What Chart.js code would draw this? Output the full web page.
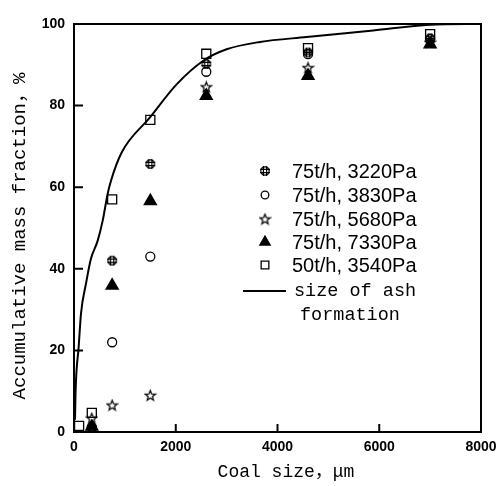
<!DOCTYPE html>
<html>
<head>
<meta charset="utf-8">
<script src="https://cdn.jsdelivr.net/npm/chart.js@4.4.1/dist/chart.umd.min.js"></script>
<style>
body { margin: 0; background: #fff; }
#wrap { width: 499px; height: 486px; }
</style>
</head>
<body>
<div id="wrap"><canvas id="ash-chart" width="499" height="486"></canvas></div>
<script>
// coal sizes (um) where the samples were taken
const coalSize = [350, 750, 1500, 2600, 4600, 7000];
const coalSize50 = [100, 350, 750, 1500, 2600, 4600, 7000];

// accumulative mass fraction (%) per boiler load / pressure
const frac3220 = [1.0, 42.0, 65.7, 90.2, 93.0, 96.5];
const frac3830 = [1.2, 22.0, 43.0, 88.3, 92.6, 96.3];
const frac5680 = [3.4, 6.6, 9.0, 84.6, 89.3, 95.5];
const frac7330 = [1.3, 35.9, 56.6, 82.4, 87.3, 95.0];
const frac3540 = [1.5, 4.7, 57.0, 76.5, 92.7, 94.1, 97.5];

// size of ash formation curve
const ashX = [20, 30, 92, 138, 236, 334, 466, 564, 662, 727, 937, 1493, 2017, 2541, 3000, 3654, 4571, 5881, 7000, 8000];
const ashY = [3, 9.5, 20.9, 29.1, 36.4, 42.5, 46.9, 51.8, 58.4, 61.6, 68.5, 77.1, 85.2, 91, 93.8, 95.6, 96.8, 98.4, 99.8, 100];

const seriesNames = ['75t/h, 3220Pa', '75t/h, 3830Pa', '75t/h, 5680Pa', '75t/h, 7330Pa', '50t/h, 3540Pa'];
const ashName = ['size of ash', 'formation'];
const xTitle = 'Coal size\uff0c\u03bcm';
const yTitle = 'Accumulative mass fraction\uff0c%';

const xTicks = [0, 2000, 4000, 6000, 8000];
const yTicks = [0, 20, 40, 60, 80, 100];

function makeMarker(size, draw) {
    const c = document.createElement('canvas');
    c.width = size;
    c.height = size;
    const g = c.getContext('2d');
    g.strokeStyle = '#000';
    g.fillStyle = '#000';
    g.lineWidth = 1.2;
    draw(g, size / 2);
    return c;
}

const hashMarker = makeMarker(12, (g, m) => {
    g.beginPath();
    g.arc(m, m, 4.2, 0, Math.PI * 2);
    g.stroke();
    g.beginPath();
    g.moveTo(m - 1.6, m - 5); g.lineTo(m - 1.6, m + 5);
    g.moveTo(m + 1.6, m - 5); g.lineTo(m + 1.6, m + 5);
    g.moveTo(m - 5, m - 1.6); g.lineTo(m + 5, m - 1.6);
    g.moveTo(m - 5, m + 1.6); g.lineTo(m + 5, m + 1.6);
    g.stroke();
});

const starMarker = makeMarker(13, (g, m) => {
    g.beginPath();
    for (let i = 0; i < 10; i++) {
        const r = i % 2 ? 2.3 : 5.4;
        const a = -Math.PI / 2 + i * Math.PI / 5;
        const px = m + r * Math.cos(a), py = m + 0.5 + r * Math.sin(a);
        if (i) g.lineTo(px, py); else g.moveTo(px, py);
    }
    g.closePath();
    g.stroke();
});

function pts(xs, ys) {
    return xs.map((x, i) => ({x: x, y: ys[i]}));
}

const markerStyles = [
    {pointStyle: hashMarker, pointRadius: 5, pointBackgroundColor: 'rgba(0,0,0,0)'},
    {pointStyle: 'circle', pointRadius: 4.5, pointBackgroundColor: 'rgba(0,0,0,0)'},
    {pointStyle: starMarker, pointRadius: 5, pointBackgroundColor: 'rgba(0,0,0,0)'},
    {pointStyle: 'triangle', pointRadius: 7, pointBackgroundColor: '#000'},
    {pointStyle: 'rect', pointRadius: 6.4, pointBackgroundColor: 'rgba(0,0,0,0)'}
];

const seriesData = [
    pts(coalSize, frac3220),
    pts(coalSize, frac3830),
    pts(coalSize, frac5680),
    pts(coalSize, frac7330),
    pts(coalSize50, frac3540)
];

const datasets = seriesData.map((d, i) => Object.assign({
    label: seriesNames[i],
    data: d,
    showLine: false,
    pointBorderColor: '#000',
    pointBorderWidth: 1.3,
    pointHoverRadius: 0
}, markerStyles[i]));

datasets.push({
    label: ashName.join(' '),
    data: pts(ashX, ashY),
    showLine: true,
    borderColor: '#000',
    borderWidth: 2,
    pointRadius: 0,
    cubicInterpolationMode: 'monotone'
});

// frame, inward ticks, axis titles and the legend inside the plot
const framePlugin = {
    id: 'frame',
    beforeDraw(chart) {
        const ctx = chart.ctx;
        ctx.save();
        ctx.fillStyle = '#fff';
        ctx.fillRect(0, 0, chart.width, chart.height);
        ctx.restore();
    },
    afterDraw(chart) {
        const ctx = chart.ctx;
        const a = chart.chartArea;
        const xs = chart.scales.x, ys = chart.scales.y;
        ctx.save();
        ctx.strokeStyle = '#000';
        ctx.lineWidth = 2;
        ctx.strokeRect(a.left, a.top, a.right - a.left, a.bottom - a.top);
        ctx.beginPath();
        xTicks.slice(1, -1).forEach(v => {
            const px = xs.getPixelForValue(v);
            ctx.moveTo(px, a.bottom);
            ctx.lineTo(px, a.bottom - 8);
        });
        yTicks.slice(1, -1).forEach(v => {
            const py = ys.getPixelForValue(v);
            ctx.moveTo(a.left, py);
            ctx.lineTo(a.left + 9, py);
        });
        ctx.stroke();

        // axis titles
        ctx.fillStyle = '#000';
        ctx.textAlign = 'center';
        ctx.textBaseline = 'middle';
        ctx.font = '18px "Liberation Mono", "Noto Sans CJK SC", monospace';
        ctx.fillText(xTitle, 286, 472);
        ctx.save();
        ctx.translate(20, 236);
        ctx.rotate(-Math.PI / 2);
        ctx.font = '19px "Liberation Mono", "Noto Sans CJK SC", monospace';
        ctx.fillText(yTitle, 0, 0);
        ctx.restore();

        // legend
        const rowY = [171, 195, 219, 242, 265];
        ctx.textAlign = 'left';
        ctx.font = '20px "Liberation Sans", Arial, sans-serif';
        datasets.slice(0, 5).forEach((ds, i) => {
            ctx.strokeStyle = '#000';
            ctx.fillStyle = ds.pointBackgroundColor;
            ctx.lineWidth = 1.3;
            Chart.helpers.drawPoint(ctx, {
                pointStyle: ds.pointStyle,
                radius: ds.pointRadius * 0.85,
                rotation: 0,
                borderWidth: 1.3
            }, 265, rowY[i]);
            ctx.fillStyle = '#000';
            ctx.fillText(seriesNames[i], 292, rowY[i] + 1);
        });
        ctx.beginPath();
        ctx.lineWidth = 2;
        ctx.moveTo(243, 291);
        ctx.lineTo(286, 291);
        ctx.stroke();
        ctx.font = '18.5px "Liberation Mono", monospace';
        ctx.fillText(ashName[0], 294, 291);
        ctx.fillText(ashName[1], 300, 315);
        ctx.restore();
    }
};

const ctx = document.getElementById('ash-chart').getContext('2d');

const chart = new Chart(ctx, {
    type: 'scatter',
    data: {datasets: datasets},
    plugins: [framePlugin],
    options: {
        responsive: false,
        animation: false,
        events: [],
        layout: {padding: {left: 0, right: 18, top: 24, bottom: 0}},
        scales: {
            x: {
                type: 'linear',
                min: 0,
                max: 8000,
                afterFit: s => { s.height = 54; s.paddingRight = 0; },
                afterBuildTicks: s => { s.ticks = xTicks.map(v => ({value: v})); },
                grid: {display: false, drawTicks: false},
                border: {display: false},
                ticks: {
                    color: '#000',
                    padding: 7,
                    maxRotation: 0,
                    callback: v => String(v),
                    font: {family: '"Liberation Sans", Arial, sans-serif', size: 14, weight: 'bold'}
                }
            },
            y: {
                type: 'linear',
                min: 0,
                max: 100,
                afterFit: s => { s.width = 74; },
                afterBuildTicks: s => { s.ticks = yTicks.map(v => ({value: v})); },
                grid: {display: false, drawTicks: false},
                border: {display: false},
                ticks: {
                    color: '#000',
                    padding: 9,
                    callback: v => String(v),
                    font: {family: '"Liberation Sans", Arial, sans-serif', size: 14, weight: 'bold'}
                }
            }
        },
        plugins: {
            legend: {display: false},
            tooltip: {enabled: false}
        }
    }
});
</script>
</body>
</html>
